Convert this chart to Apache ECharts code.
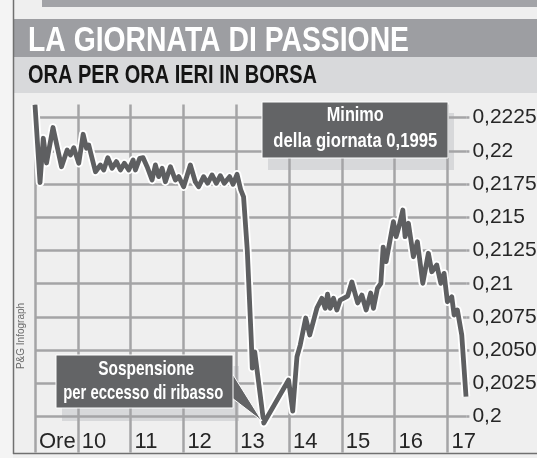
<!DOCTYPE html>
<html>
<head>
<meta charset="utf-8">
<script src="https://cdn.jsdelivr.net/npm/echarts@6/dist/echarts.min.js"></script>
<style>
html,body{margin:0;padding:0;background:#efefef;}
#chart{width:537px;height:458px;}
</style>
</head>
<body>
<div id="chart"></div>
<script>
// ---- data (time in decimal hours, price in euro) ----
const times = [
  9.19, 9.285, 9.347, 9.408, 9.531, 9.692, 9.799, 9.862, 9.924, 10.019,
  10.102, 10.165, 10.208, 10.335, 10.429, 10.492, 10.568, 10.651, 10.732, 10.808,
  10.883, 10.965, 11.048, 11.092, 11.173, 11.237, 11.313, 11.407, 11.470, 11.532,
  11.597, 11.659, 11.754, 11.848, 11.911, 12.005, 12.132, 12.227, 12.289, 12.384,
  12.459, 12.543, 12.624, 12.700, 12.775, 12.876, 12.940, 13.016, 13.087, 13.140,
  13.210, 13.286, 13.305, 13.352, 13.523, 13.992, 14.071, 14.151, 14.213, 14.317,
  14.393, 14.529, 14.623, 14.686, 14.730, 14.781, 14.843, 14.907, 14.970, 15.111,
  15.191, 15.301, 15.380, 15.462, 15.547, 15.600, 15.675, 15.740, 15.783, 15.840,
  15.978, 16.029, 16.091, 16.156, 16.199, 16.262, 16.356, 16.432, 16.534, 16.640,
  16.705, 16.799, 16.875, 16.937, 17.000, 17.083, 17.127, 17.189, 17.272, 17.353
];
const prices = [
  0.22346, 0.21762, 0.22095, 0.21909, 0.22176, 0.21881, 0.22007, 0.21969, 0.22024, 0.21907,
  0.22125, 0.22020, 0.22044, 0.21843, 0.21894, 0.21856, 0.21949, 0.21869, 0.21919, 0.21856,
  0.21907, 0.21856, 0.21931, 0.21856, 0.21944, 0.21949, 0.21881, 0.21781, 0.21894, 0.21806,
  0.21869, 0.21768, 0.21881, 0.21781, 0.21806, 0.21730, 0.21894, 0.21766, 0.21730, 0.21806,
  0.21756, 0.21819, 0.21756, 0.21813, 0.21756, 0.21806, 0.21748, 0.21824, 0.21706, 0.21653,
  0.21254, 0.20576, 0.20365, 0.20486, 0.19950, 0.20275, 0.20041, 0.20450, 0.20538, 0.20742,
  0.20614, 0.20817, 0.20890, 0.20815, 0.20922, 0.20815, 0.20890, 0.20802, 0.20877, 0.20907,
  0.21013, 0.20855, 0.20915, 0.20802, 0.20930, 0.20815, 0.20965, 0.21003, 0.21276, 0.21166,
  0.21467, 0.21354, 0.21442, 0.21555, 0.21354, 0.21455, 0.21203, 0.21316, 0.21003, 0.21229,
  0.21090, 0.21141, 0.21003, 0.21078, 0.20864, 0.20902, 0.20764, 0.20802, 0.20614, 0.20150
];
const hourTicks  = [9.19, 10, 11, 12, 13, 14, 15, 16, 17];
const hourLabels = ['Ore', '10', '11', '12', '13', '14', '15', '16', '17'];
const priceTicks  = [0.2, 0.2025, 0.205, 0.2075, 0.21, 0.2125, 0.215, 0.2175, 0.22, 0.2225];
const priceLabels = ['0,2', '0,2025', '0,2050', '0,2075', '0,21', '0,2125', '0,215', '0,2175', '0,22', '0,2225'];
const titleText = 'LA GIORNATA DI PASSIONE';
const subtitleText = 'ORA PER ORA IERI IN BORSA';
const minNote = ['Minimo', 'della giornata 0,1995'];
const haltNote = ['Sospensione', 'per eccesso di ribasso'];
const credit = 'P&G Infograph';

// ---- chart ----
const SANS = '"Liberation Sans",Arial,sans-serif';
const GRID = '#a4a4a6';
const LINE = '#5e5f61';
const BOX = '#636466';
const SHADOW = '#d7d8da';

const mctx = document.createElement('canvas').getContext('2d');
function squeeze(text, font, targetWidth) {
  mctx.font = font;
  return targetWidth / mctx.measureText(text).width;
}
function narrowText(text, font, x, y, targetWidth, fill, align, z) {
  const s = squeeze(text, font, targetWidth);
  return {type: 'text', x: x, y: y, scaleX: s, scaleY: 1, z: z,
    style: {text: text, font: font, fill: fill, textAlign: align, textVerticalAlign: 'middle'}};
}

function nearestLabel(v, ticks, labels) {
  let best = 0;
  for (let i = 1; i < ticks.length; i++) {
    if (Math.abs(ticks[i] - v) < Math.abs(ticks[best] - v)) best = i;
  }
  return Math.abs(ticks[best] - v) < 1e-6 ? labels[best] : '';
}

const pts = times.map((t, i) => [t, prices[i]]);
const chart = echarts.init(document.getElementById('chart'), null, {renderer: 'canvas'});

const TITLE_FONT = 'bold 35px ' + SANS;
const SUB_FONT = 'bold 25px ' + SANS;
const NOTE_FONT = 'bold 21px ' + SANS;

chart.setOption({
  backgroundColor: '#efefef',
  animation: false,
  grid: {left: 35, right: 70.6, top: 104.4, bottom: 5.6, containLabel: false, outerBoundsMode: 'none'},
  xAxis: {
    type: 'value', min: 9.19, max: 17.36,
    axisLine: {show: false},
    axisTick: {show: false, customValues: hourTicks},
    axisLabel: {
      customValues: hourTicks, inside: true, margin: 10,
      align: 'left', verticalAlign: 'middle', padding: [0, 0, 0, 4],
      fontFamily: SANS, fontSize: 22, color: '#262626',
      formatter: v => nearestLabel(v, hourTicks, hourLabels)
    },
    splitLine: {show: true, lineStyle: {color: GRID, width: 2.5}}
  },
  yAxis: {
    type: 'value', position: 'right', min: 0.1973, max: 0.2235,
    axisLine: {show: false},
    axisTick: {show: true, customValues: priceTicks, length: 3, lineStyle: {color: GRID, width: 2.5}},
    axisLabel: {
      customValues: priceTicks, margin: 6,
      fontFamily: SANS, fontSize: 21, color: '#262626',
      formatter: v => nearestLabel(v, priceTicks, priceLabels)
    },
    splitLine: {show: true, lineStyle: {color: GRID, width: 2.5}}
  },
  series: [
    {type: 'line', data: pts, symbol: 'none', silent: true, z: 3,
     lineStyle: {color: '#ffffff', width: 8.5, join: 'round'}},
    {type: 'line', data: pts, symbol: 'none', silent: true, z: 4,
     lineStyle: {color: LINE, width: 4.8, join: 'round'}}
  ],
  graphic: [
    // frame and header bands
    {type: 'rect', shape: {x: 0, y: 0, width: 13, height: 458}, style: {fill: '#f4f4f4'}, z: -10},
    {type: 'rect', shape: {x: 42, y: 0, width: 495, height: 7}, style: {fill: '#a2a3a7'}, z: 10},
    {type: 'rect', shape: {x: 14, y: 19, width: 523, height: 38}, style: {fill: '#9d9ea2'}, z: 10},
    {type: 'rect', shape: {x: 14, y: 57, width: 523, height: 36}, style: {fill: '#d8d9db'}, z: 10},
    narrowText(titleText, TITLE_FONT, 28, 41, 381, '#ffffff', 'left', 11),
    narrowText(subtitleText, SUB_FONT, 28, 76, 289, '#141414', 'left', 11),
    {type: 'line', shape: {x1: 13.5, y1: 0, x2: 13.5, y2: 454}, style: {stroke: '#707070', lineWidth: 1.5}, z: 12},
    {type: 'line', shape: {x1: 13, y1: 453.5, x2: 537, y2: 453.5}, style: {stroke: '#707070', lineWidth: 1.5}, z: 12},
    // "Minimo" note
    {type: 'rect', shape: {x: 268, y: 113, width: 186, height: 57}, style: {fill: SHADOW}, z: -1},
    {type: 'rect', shape: {x: 262, y: 102, width: 186, height: 56}, style: {fill: BOX, stroke: '#ffffff', lineWidth: 1}, z: 8},
    narrowText(minNote[0], NOTE_FONT, 355.3, 115.5, 57, '#ffffff', 'center', 9),
    narrowText(minNote[1], NOTE_FONT, 355.3, 141.5, 164, '#ffffff', 'center', 9),
    // "Sospensione" note
    {type: 'rect', shape: {x: 62, y: 366, width: 177, height: 55}, style: {fill: SHADOW}, z: -1},
    {type: 'polygon', shape: {points: [[232, 373], [262, 421], [232, 398]]}, style: {fill: BOX, stroke: '#ffffff', lineWidth: 1}, z: 8},
    {type: 'rect', shape: {x: 56, y: 355, width: 177, height: 53}, style: {fill: BOX, stroke: '#ffffff', lineWidth: 1}, z: 8},
    narrowText(haltNote[0], NOTE_FONT, 146.2, 369, 96, '#ffffff', 'center', 9),
    narrowText(haltNote[1], NOTE_FONT, 143.3, 393.3, 160, '#ffffff', 'center', 9),
    // credit
    {type: 'text', x: 21.5, y: 336, rotation: Math.PI / 2, z: 9,
     style: {text: credit, font: '10px ' + SANS, fill: '#6a6a6a', textAlign: 'center', textVerticalAlign: 'middle'}}
  ]
});
</script>
</body>
</html>
